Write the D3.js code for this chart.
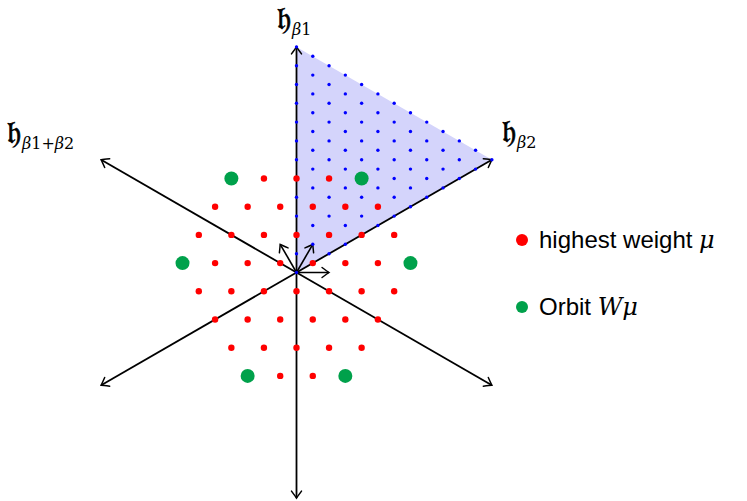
<!DOCTYPE html>
<html>
<head>
<meta charset="utf-8">
<script src="https://cdn.jsdelivr.net/npm/d3@7"></script>
<style>
  body { margin: 0; background: #fff; }
  svg { display: block; }
  .lbl { font-family: "DejaVu Serif", "Liberation Serif", serif; }
  .leg { font-family: "Liberation Sans", "DejaVu Sans", sans-serif; font-size: 24px; }
</style>
</head>
<body>
<svg id="chart" width="747" height="501"></svg>
<script>
//
// D A T A
//
// weights of the representation, as [p, q] = p*w1 + q*w2
var weights = [
  [6,-2],[5,0],[4,2],
  [6,-5],[5,-3],[4,-1],[3,1],[2,3],[1,5],
  [5,-6],[4,-4],[3,-2],[2,0],[1,2],[0,4],[-1,6],
  [3,-5],[2,-3],[1,-1],[0,1],[-1,3],[-2,5],
  [2,-6],[1,-4],[0,-2],[-1,0],[-2,2],[-3,4],[-4,6],
  [0,-5],[-1,-3],[-2,-1],[-3,1],[-4,3],[-5,5],
  [-2,-4],[-3,-2],[-4,0],[-5,2],[-6,4],
  [-5,-1],[-6,1]
];
// Weyl orbit of the highest weight mu = 3*w1 + 4*w2
var orbit = [[3,4],[7,-4],[4,-7],[-3,7],[-4,-3],[-7,3]];
// positive roots drawn at the origin
var roots = [[2,-1],[-1,2],[1,1]];
// axis directions (degrees) and the size of the shaded chamber
var axisAngles = [90, 30, 150, 270, 210, 330];
var chamberSize = 12;
var axisLabels = [
  {sub: ["\u03b2", "1"], x: 277, y: 29},
  {sub: ["\u03b2", "2"], x: 502, y: 142},
  {sub: ["\u03b2", "1", "+", "\u03b2", "2"], x: 7, y: 143}
];
var legendItems = [
  {label: "highest weight ", math: "\u03bc", color: "#ff0000"},
  {label: "Orbit ", math: "W\u03bc", color: "#00a14b"}
];

//
// S C A L E S
//
var cx = 296.5, cy = 272.5, w = 18.8;
var x = d3.scaleLinear().domain([-12, 12]).range([cx - 12 * w, cx + 12 * w]);
var y = d3.scaleLinear().domain([-12, 12]).range([cy + 12 * w, cy - 12 * w]);
var r3 = Math.sqrt(3) / 2;
// weight coords -> plane coords (units of w)
function px(d){ return x(d[1] * r3); }
function py(d){ return y(d[0] + d[1] / 2); }

var svg = d3.select('#chart');

// arrow head (open chevron)
svg.append('defs').append('marker')
  .attr('id', 'arr')
  .attr('viewBox', '-9 -7 11 14')
  .attr('markerWidth', 11).attr('markerHeight', 14)
  .attr('markerUnits', 'userSpaceOnUse')
  .attr('refX', 0).attr('refY', 0)
  .attr('orient', 'auto')
  .append('path')
    .attr('d', 'M-7,-5 Q-1.8,-1.2 0,0 Q-1.8,1.2 -7,5')
    .attr('fill', 'none')
    .attr('stroke', '#000')
    .attr('stroke-width', 1.5)
    .attr('stroke-linecap', 'round');

//
// D O M I N A N T   C H A M B E R
//
var tri = [[0,0],[chamberSize,0],[0,chamberSize]];
svg.append('polygon')
  .attr('points', tri.map(function(d){ return px(d) + ',' + py(d); }).join(' '))
  .attr('fill', '#d4d4fb');

//
// A X E S
//
svg.selectAll('line.axis')
  .data(axisAngles)
  .enter().append('line')
    .attr('class', 'axis')
    .attr('x1', x(0)).attr('y1', y(0))
    .attr('x2', function(a){ return x(12 * Math.cos(a * Math.PI / 180)); })
    .attr('y2', function(a){ return y(12 * Math.sin(a * Math.PI / 180)); })
    .attr('stroke', '#000')
    .attr('stroke-width', 1.8)
    .attr('marker-end', 'url(#arr)');

svg.selectAll('line.root')
  .data(roots)
  .enter().append('line')
    .attr('class', 'root')
    .attr('x1', x(0)).attr('y1', y(0))
    .attr('x2', px).attr('y2', py)
    .attr('stroke', '#000')
    .attr('stroke-width', 1.6)
    .attr('marker-end', 'url(#arr)');

//
// L A T T I C E   P O I N T S
//
var chamber = [];
for (var p = 0; p <= chamberSize; p++)
  for (var q = 0; q <= chamberSize - p; q++) chamber.push([p, q]);

svg.selectAll('circle.blue')
  .data(chamber)
  .enter().append('circle')
    .attr('class', 'blue')
    .attr('cx', px).attr('cy', py)
    .attr('r', 1.7)
    .attr('fill', '#0000ff');

svg.selectAll('circle.wt')
  .data(weights)
  .enter().append('circle')
    .attr('class', 'wt')
    .attr('cx', px).attr('cy', py)
    .attr('r', 3.2)
    .attr('fill', '#ff0000');

svg.selectAll('circle.orb')
  .data(orbit)
  .enter().append('circle')
    .attr('class', 'orb')
    .attr('cx', px).attr('cy', py)
    .attr('r', 7)
    .attr('fill', '#00a14b');

//
// A X I S   L A B E L S
//
axisLabels.forEach(function(l){
  var t = svg.append('text').attr('class', 'lbl')
    .attr('x', l.x).attr('y', l.y)
    .attr('font-size', 31);
  t.append('tspan')
    .attr('stroke', '#000')
    .attr('stroke-width', 0.7)
    .text('\ud835\udd25');
  l.sub.forEach(function(s, i){
    var greek = s === '\u03b2';
    t.append('tspan')
      .attr('font-size', 16)
      .attr('font-style', greek ? 'italic' : 'normal')
      .attr('dy', i === 0 ? 6 : null)
      .attr('dx', i === 0 ? 1 : null)
      .text(s);
  });
});

//
// L E G E N D
//
var leg = svg.selectAll('g.leg')
  .data(legendItems)
  .enter().append('g')
    .attr('class', 'leg')
    .attr('transform', function(d, i){ return 'translate(522,' + (240 + i * 67) + ')'; });

leg.append('circle').attr('r', 6).attr('fill', function(d){ return d.color; });
var lt = leg.append('text').attr('x', 17).attr('y', 8)
  .text(function(d){ return d.label; });
lt.append('tspan')
  .attr('font-family', '"DejaVu Serif", serif')
  .attr('font-style', 'italic')
  .text(function(d){ return d.math; });
</script>
</body>
</html>
